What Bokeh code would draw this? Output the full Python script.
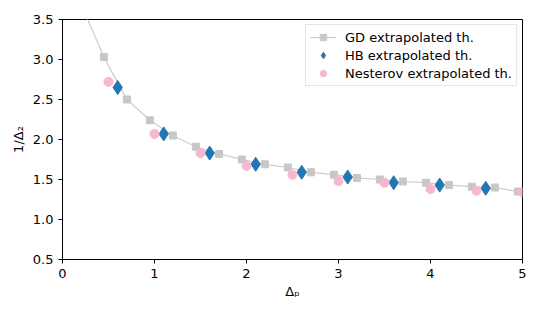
from bokeh.plotting import figure
from bokeh.models import Range1d, FixedTicker, Legend, LegendItem
from bokeh.embed import file_html
from bokeh.resources import INLINE

gd_x = [0.2, 0.45, 0.7, 0.95, 1.2, 1.45, 1.7, 1.95, 2.2, 2.45, 2.7, 2.95, 3.2, 3.45, 3.7, 3.95, 4.2, 4.45, 4.7, 4.95]
gd_y = [3.70, 3.03, 2.50, 2.24, 2.05, 1.91, 1.82, 1.75, 1.69, 1.65, 1.59, 1.56, 1.52, 1.50, 1.475, 1.46, 1.43, 1.41, 1.40, 1.35]
hb_x = [0.6, 1.1, 1.6, 2.1, 2.6, 3.1, 3.6, 4.1, 4.6]
hb_y = [2.65, 2.07, 1.83, 1.69, 1.59, 1.53, 1.46, 1.43, 1.39]
nes_x = [0.5, 1.0, 1.5, 2.0, 2.5, 3.0, 3.5, 4.0, 4.5, 5.0]
nes_y = [2.72, 2.07, 1.83, 1.67, 1.56, 1.48, 1.46, 1.38, 1.36, 1.34]
x_ticks = [0, 1, 2, 3, 4, 5]
y_ticks = [0.5, 1.0, 1.5, 2.0, 2.5, 3.0, 3.5]

FONT = "DejaVu Sans"

p = figure(width=532, height=307, output_backend="svg", toolbar_location=None,
           x_range=Range1d(0, 5), y_range=Range1d(0.5, 3.5),
           min_border_left=62, min_border_right=10, min_border_top=19, min_border_bottom=48)
p.xgrid.visible = False
p.ygrid.visible = False
p.outline_line_color = "black"
p.outline_line_width = 1
p.background_fill_color = "white"
p.border_fill_color = "white"

for ax in (p.xaxis[0], p.yaxis[0]):
    ax.major_tick_in = 0
    ax.major_tick_out = 4
    ax.minor_tick_line_color = None
    ax.axis_line_color = "black"
    ax.major_tick_line_color = "black"
    ax.major_label_text_font = FONT
    ax.major_label_text_font_size = "13px"
    ax.major_label_text_color = "black"
    ax.axis_label_text_font = FONT
    ax.axis_label_text_font_size = "13px"
    ax.axis_label_text_font_style = "normal"
    ax.axis_label_text_color = "black"

p.xaxis.ticker = FixedTicker(ticks=x_ticks)
p.yaxis.ticker = FixedTicker(ticks=y_ticks)
p.xaxis.major_label_overrides = {t: str(t) for t in x_ticks}
p.yaxis.major_label_overrides = {t: f"{t:.1f}" for t in y_ticks}
p.xaxis.axis_label = "Δₚ"
p.yaxis.axis_label = "1/Δ₂"
p.xaxis.axis_label_standoff = 3
p.yaxis.axis_label_standoff = 4

gd_line = p.line(gd_x, gd_y, line_color="#cccccc", line_width=1.2)
gd_pts = p.scatter(gd_x, gd_y, marker="square", size=7, fill_color="#c7c7c7", line_color="#c7c7c7")
hb_pts = p.scatter(hb_x, hb_y, marker="diamond", size=14, fill_color="#1f77b4", line_color="#1f77b4")
nes_pts = p.scatter(nes_x, nes_y, marker="circle", size=9, fill_color="#f7b6d2", line_color="#f7b6d2")

legend = Legend(items=[
    LegendItem(label="GD extrapolated th.", renderers=[gd_line, gd_pts]),
    LegendItem(label="HB extrapolated th.", renderers=[hb_pts]),
    LegendItem(label="Nesterov extrapolated th.", renderers=[nes_pts]),
], location="top_right")
legend.label_text_font = FONT
legend.label_text_font_size = "13px"
legend.label_text_color = "black"
legend.glyph_width = 26
legend.glyph_height = 16
legend.label_height = 16
legend.label_standoff = 9
legend.spacing = 2
legend.padding = 4
legend.margin = 5
legend.border_line_color = "#cccccc"
legend.border_line_width = 1
legend.background_fill_color = "white"
legend.background_fill_alpha = 0.8
p.add_layout(legend)

open("out.html", "w").write(file_html(p, INLINE))
